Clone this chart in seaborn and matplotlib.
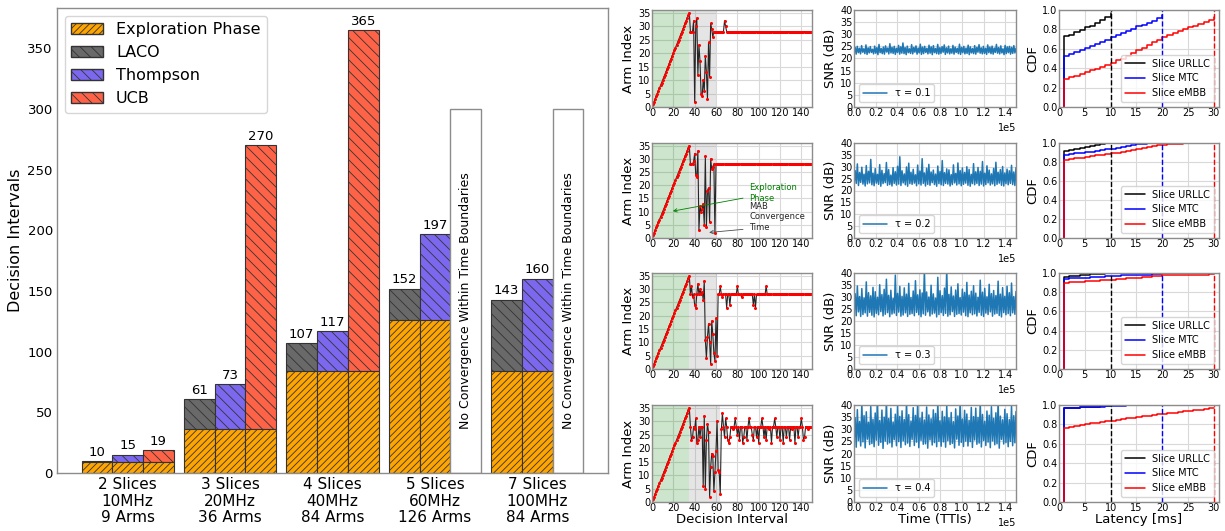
import numpy as np
import matplotlib
matplotlib.use('Agg')
import matplotlib.pyplot as plt
import seaborn as sns
from matplotlib.patches import Patch

# ── Data: convergence time per scenario ─────────────────────────────────────
scenarios = ['2 Slices\n10MHz\n9 Arms', '3 Slices\n20MHz\n36 Arms', '4 Slices\n40MHz\n84 Arms',
             '5 Slices\n60MHz\n126 Arms', '7 Slices\n100MHz\n84 Arms']
explore_phase = [9, 36, 84, 126, 84]
laco_total = [10, 61, 107, 152, 143]
thompson_total = [15, 73, 117, 197, 160]
ucb_total = [19, 270, 365, None, None]   # None -> no convergence
no_conv_height = 300
no_conv_text = 'No Convergence Within Time Boundaries'

# ── Data: arm index traces (36 arms) ────────────────────────────────────────
arm_explore = [0, 1, 2, 3, 4, 5, 6, 7, 8, 9, 10, 11, 12, 13, 14, 15, 16, 17,
               18, 19, 20, 21, 22, 23, 24, 25, 26, 27, 28, 29, 30, 31, 32, 33, 34, 35]
arm_best = 28
n_intervals = 150
arm_chaos = [
    [28, 28, 28, 32, 2, 30, 33, 12, 23, 17, 5, 4, 10, 6, 19, 13, 3, 24, 11, 31, 29, 26, 28],
    [28, 28, 28, 29, 32, 24, 23, 33, 3, 12, 10, 11, 13, 5, 31, 4, 18, 19, 6, 30, 26, 27, 28, 2, 28],
    [28, 31, 27, 28, 24, 23, 28, 32, 28, 30, 28, 29, 26, 33, 11, 4, 12, 17, 10, 2, 18, 13, 6, 3, 19, 5],
    [28, 23, 24, 28, 27, 31, 22, 23, 28, 24, 28, 28, 6, 32, 5, 23, 29, 26, 2, 13, 18, 17, 4, 11, 19,
     30, 12, 11, 3],
]
arm_spikes = [
    {68: 32, 69: 30},
    {},
    {64: 31, 66: 27, 70: 23, 73: 24, 80: 31, 84: 27, 95: 24, 97: 23, 107: 31},
    {65: 27, 66: 33, 68: 24, 69: 31, 71: 23, 72: 22, 73: 24, 76: 27, 78: 31, 80: 25, 82: 23,
     85: 22, 86: 24, 89: 23, 91: 31, 94: 25, 95: 23, 98: 24, 100: 22, 103: 31, 105: 24, 107: 23,
     110: 27, 112: 22, 115: 31, 117: 24, 120: 23, 123: 22, 126: 24, 129: 23, 131: 27, 134: 22,
     137: 24, 140: 31, 142: 23, 143: 24, 146: 27},
]
gray_end = [60, 60, 61, 64]

# ── Data: SNR traces (alternating band low / high readings) ─────────────────
tau_labels = ['τ = 0.1', 'τ = 0.2', 'τ = 0.3', 'τ = 0.4']
snr_01 = [22.1, 24.6, 21.8, 25.0, 22.4, 24.2, 21.9, 25.3, 22.6, 24.0, 22.0, 25.6, 21.7, 24.4, 22.3, 24.9, 22.5, 23.8, 21.9, 25.1,
          22.2, 24.5, 21.6, 25.8, 22.4, 24.1, 22.0, 24.7, 21.8, 25.2, 22.7, 24.3, 21.9, 26.1, 22.3, 24.6, 22.1, 25.0, 21.7, 24.2,
          22.5, 25.4, 21.8, 24.8, 22.2, 26.4, 22.0, 24.5, 21.6, 25.1, 22.4, 24.0, 22.1, 25.7, 21.9, 24.6, 22.6, 25.2, 21.8, 24.3,
          22.3, 25.9, 21.7, 24.7, 22.0, 25.0, 22.5, 24.2, 21.9, 25.5, 22.2, 24.8, 21.6, 25.3, 22.4, 24.1, 22.0, 25.8, 21.8, 24.5,
          22.1, 24.9, 22.6, 25.6, 21.7, 24.4, 22.3, 25.1, 21.9, 24.0, 22.2, 25.4, 21.8, 24.7, 22.5, 24.2, 22.0, 25.9, 21.7, 24.6,
          22.4, 25.0, 21.9, 24.3, 22.1, 25.5, 21.6, 24.8, 22.3, 24.1, 22.0, 25.3, 21.8, 24.6, 22.6, 25.7, 22.2, 24.4, 21.9, 25.0,
          22.1, 24.2, 21.7, 25.6, 22.4, 24.7, 22.0, 25.1, 21.8, 24.3, 22.5, 25.8, 22.2, 24.5, 21.9, 25.2, 22.3, 24.0, 21.6, 25.4,
          22.0, 24.8, 22.4, 25.0, 21.8, 24.6, 22.1, 25.3, 22.3, 24.2]
snr_02 = [22.5, 28.4, 23.0, 31.2, 22.1, 27.6, 23.4, 29.8, 22.7, 26.9, 21.9, 30.5, 22.8, 28.1, 23.2, 33.1, 22.4, 27.3, 22.0, 29.2,
          23.1, 26.8, 22.6, 30.9, 21.8, 28.5, 22.9, 27.1, 23.3, 31.8, 22.2, 28.8, 22.5, 26.5, 21.9, 29.6, 23.0, 27.9, 22.3, 30.2,
          22.7, 34.2, 22.1, 28.3, 23.2, 27.0, 22.4, 29.9, 21.8, 31.5, 22.9, 27.7, 22.6, 28.9, 23.1, 26.6, 22.0, 30.7, 22.8, 28.2,
          22.3, 33.4, 23.0, 27.4, 21.9, 29.4, 22.6, 31.0, 22.2, 27.8, 23.3, 28.6, 22.5, 26.9, 21.8, 30.3, 22.9, 28.0, 22.4, 32.6,
          22.1, 27.5, 23.0, 29.1, 22.7, 28.7, 21.9, 26.7, 22.5, 30.8, 23.2, 27.2, 22.3, 31.6, 22.8, 28.4, 22.0, 29.5, 22.6, 27.6,
          23.1, 30.0, 22.2, 28.9, 21.8, 26.8, 22.9, 31.3, 22.4, 27.9, 23.0, 29.7, 22.1, 28.1, 22.7, 32.2, 21.9, 27.3, 22.5, 30.4,
          23.2, 28.6, 22.3, 27.0, 22.8, 29.3, 22.0, 31.9, 22.6, 27.7, 23.1, 28.8, 22.2, 30.1, 21.9, 27.4, 22.9, 29.0, 22.4, 28.3,
          23.0, 30.6, 22.5, 27.8, 22.1, 29.6]
snr_03 = [23.1, 31.4, 22.2, 34.6, 23.8, 30.2, 21.9, 33.5, 22.7, 29.6, 23.4, 36.3, 22.0, 31.8, 23.6, 30.5, 22.4, 34.0, 21.7, 32.2,
          23.2, 29.9, 22.6, 35.1, 23.9, 31.0, 22.1, 33.2, 22.8, 37.4, 23.5, 30.7, 21.8, 32.8, 22.9, 29.4, 23.3, 39.1, 22.3, 31.5,
          23.7, 34.4, 22.0, 30.3, 22.5, 33.8, 23.4, 31.2, 21.9, 35.7, 22.8, 29.8, 23.1, 32.5, 22.2, 36.8, 23.6, 30.9, 22.6, 33.0,
          21.8, 31.7, 23.0, 41.2, 22.4, 32.1, 23.8, 30.0, 22.1, 34.9, 22.9, 31.3, 23.3, 29.5, 21.7, 38.2, 22.7, 32.6, 23.5, 30.6,
          22.3, 33.7, 23.2, 41.5, 22.0, 31.1, 22.6, 34.2, 23.9, 30.4, 21.9, 32.9, 22.8, 35.5, 23.1, 29.7, 22.5, 33.3, 23.7, 31.9,
          22.2, 36.1, 21.8, 30.8, 23.4, 32.4, 22.6, 34.7, 23.0, 31.6, 22.1, 29.9, 23.6, 37.0, 22.4, 32.0, 21.9, 33.6, 23.3, 30.1,
          22.7, 35.3, 23.8, 31.4, 22.0, 32.7, 22.9, 30.6, 23.2, 36.6, 22.3, 31.2, 21.7, 33.9, 23.5, 30.3, 22.6, 34.5, 23.1, 31.8,
          22.2, 35.8, 23.4, 30.2, 22.8, 32.3]
snr_04 = [24.2, 34.8, 22.6, 38.1, 25.3, 33.2, 23.1, 41.0, 24.8, 35.6, 22.3, 37.2, 25.9, 32.9, 23.7, 39.4, 24.1, 34.1, 22.8, 36.7,
          25.5, 41.8, 23.4, 33.6, 24.6, 37.9, 22.1, 35.0, 25.1, 42.0, 23.9, 34.4, 24.4, 38.6, 22.7, 33.0, 25.7, 36.2, 23.2, 39.8,
          24.9, 35.3, 22.5, 37.6, 25.2, 34.0, 23.6, 41.3, 24.3, 36.0, 22.9, 33.4, 25.8, 38.9, 23.3, 35.7, 24.7, 41.6, 22.4, 34.6,
          25.4, 37.0, 23.8, 33.8, 24.0, 39.2, 22.2, 35.9, 25.6, 34.3, 23.5, 38.0, 24.5, 36.5, 22.8, 41.1, 25.0, 33.5, 23.0, 37.4,
          24.8, 35.1, 22.6, 39.6, 25.3, 34.7, 23.7, 36.9, 24.2, 33.1, 22.3, 38.4, 25.9, 35.5, 23.4, 41.9, 24.6, 34.2, 22.9, 37.8,
          25.1, 36.3, 23.1, 33.7, 24.9, 39.0, 22.5, 35.2, 25.6, 38.7, 23.8, 34.9, 24.3, 41.4, 22.7, 36.1, 25.4, 33.3, 23.3, 37.5,
          24.7, 35.8, 22.4, 39.3, 25.2, 34.5, 23.6, 36.8, 24.0, 41.7, 22.2, 35.4, 25.8, 33.9, 23.9, 38.2, 24.5, 36.4, 22.8, 34.0,
          25.0, 39.7, 23.2, 35.6, 24.4, 37.3]
snr_traces = [snr_01, snr_02, snr_03, snr_04]

# ── Data: latency CDFs per slice (value at 1, 2, ... ms) ────────────────────
urllc_cdf = [
    [0.73, 0.745, 0.77, 0.79, 0.82, 0.84, 0.87, 0.90, 0.93, 0.965],
    [0.92, 0.93, 0.94, 0.95, 0.96, 0.97, 0.98, 0.99, 0.995, 1.0],
    [0.96, 0.965, 0.97, 0.975, 0.98, 0.985, 0.99, 0.99, 0.995, 0.995],
    [0.97, 0.972, 0.974, 0.976, 0.978, 0.98, 0.983, 0.986, 0.988, 0.99],
]
mtc_cdf = [
    [0.53, 0.55, 0.57, 0.59, 0.61, 0.63, 0.65, 0.67, 0.69, 0.72, 0.74, 0.76, 0.78, 0.80, 0.83, 0.85, 0.87, 0.89, 0.92, 0.95],
    [0.87, 0.88, 0.89, 0.90, 0.905, 0.91, 0.92, 0.93, 0.935, 0.94, 0.95, 0.96, 0.97, 0.98, 0.985, 0.99, 1.0, 1.0, 1.0, 1.0],
    [0.94, 0.943, 0.946, 0.95, 0.953, 0.956, 0.96, 0.963, 0.966, 0.97, 0.972, 0.974, 0.976, 0.978, 0.98, 0.982, 0.984,
     0.986, 0.988, 0.99],
    [0.97, 0.972, 0.974, 0.976, 0.978, 0.98, 0.982, 0.984, 0.986, 0.988, 0.99, 0.993, 0.995, 0.997, 1.0, 1.0, 1.0, 1.0,
     1.0, 1.0],
]
embb_cdf = [
    [0.29, 0.31, 0.32, 0.34, 0.36, 0.38, 0.39, 0.41, 0.43, 0.45, 0.48, 0.50, 0.53, 0.56, 0.59, 0.61, 0.64, 0.67, 0.69,
     0.72, 0.74, 0.76, 0.78, 0.80, 0.82, 0.84, 0.86, 0.88, 0.90, 0.93],
    [0.82, 0.83, 0.84, 0.845, 0.85, 0.86, 0.87, 0.875, 0.88, 0.89, 0.90, 0.91, 0.92, 0.93, 0.94, 0.95, 0.96, 0.97, 0.975,
     0.98, 0.985, 0.99, 0.99, 0.995, 0.995, 1.0, 1.0, 1.0, 1.0, 1.0],
    [0.90, 0.903, 0.906, 0.91, 0.913, 0.916, 0.92, 0.923, 0.926, 0.93, 0.935, 0.94, 0.944, 0.949, 0.953, 0.958, 0.962,
     0.967, 0.971, 0.975, 0.977, 0.978, 0.979, 0.98, 0.981, 0.982, 0.983, 0.984, 0.985, 0.985],
    [0.76, 0.77, 0.78, 0.79, 0.80, 0.81, 0.815, 0.825, 0.83, 0.84, 0.847, 0.854, 0.861, 0.868, 0.875, 0.882, 0.889, 0.896,
     0.903, 0.91, 0.916, 0.922, 0.928, 0.934, 0.94, 0.946, 0.952, 0.958, 0.964, 0.97],
]
slice_names = ['Slice URLLC', 'Slice MTC', 'Slice eMBB']
slice_colors = ['black', 'blue', 'red']
slice_budget = [10, 20, 30]

# ── Style ───────────────────────────────────────────────────────────────────
sns.set_theme(style='whitegrid', rc={
    'axes.edgecolor': '0.55', 'axes.linewidth': 1.0,
    'grid.color': '0.85', 'grid.linewidth': 0.8,
    'text.color': 'black', 'axes.labelcolor': 'black',
    'xtick.color': 'black', 'ytick.color': 'black',
    'xtick.major.size': 0, 'ytick.major.size': 0,
    'hatch.linewidth': 0.6, 'legend.edgecolor': '0.8',
})
plt.rcParams['font.family'] = ['DejaVu Sans']

fig = plt.figure(figsize=(12.25, 5.31), dpi=100)

# ── (A) Convergence bars ────────────────────────────────────────────────────
ax = fig.add_axes([0.0465, 0.109, 0.4498, 0.8757])
ax.grid(False)
w = 0.3
xg = np.arange(len(scenarios))
algos = [('LACO', laco_total, 'dimgray'),
         ('Thompson', thompson_total, 'mediumslateblue'),
         ('UCB', ucb_total, 'tomato')]
h_explore, h_algo = '/////', '\\\\\\'
for j, (name, totals, col) in enumerate(algos):
    for i in range(len(scenarios)):
        pos = xg[i] + (j - 1) * w
        if totals[i] is None:
            ax.bar(pos, no_conv_height, w, color='white', edgecolor='0.55', lw=1.0)
            ax.text(pos, 142, no_conv_text, rotation=90, ha='center', va='center', fontsize=9)
            continue
        ax.bar(pos, totals[i] - explore_phase[i], w, bottom=explore_phase[i], color=col,
               hatch=h_algo, edgecolor='0.2', lw=0.8)
        ax.bar(pos, explore_phase[i], w, color='orange', hatch=h_explore, edgecolor='0.2', lw=0.8)
        ax.text(pos, totals[i] + 2, str(totals[i]), ha='center', va='bottom', fontsize=9.5)

ax.set_xlim(-0.69, 4.69)
ax.set_ylim(0, 383)
ax.set_xticks(xg)
ax.set_xticklabels(scenarios, fontsize=11, linespacing=1.12)
ax.tick_params(axis='x', pad=3)
ax.set_yticks(range(0, 351, 50))
ax.tick_params(axis='y', labelsize=9.5, pad=3)
ax.set_ylabel('Decision Intervals', fontsize=11.5, labelpad=3)
handles = [Patch(facecolor='orange', hatch=h_explore, edgecolor='0.2', label='Exploration Phase')]
handles += [Patch(facecolor=c, hatch=h_algo, edgecolor='0.2', label=n) for n, _, c in algos]
ax.legend(handles=handles, loc='upper left', fontsize=11.5, frameon=True, handlelength=2.0)

# ── (B,C,D) Small panels ────────────────────────────────────────────────────
rows_px = [(10, 107), (143, 238), (273, 369), (405, 502)]
cols_px = [(652, 160), (854, 162), (1059, 160)]
W, H = 1225, 531
for r, (top, bot) in enumerate(rows_px):
    last = r == len(rows_px) - 1
    axs = [fig.add_axes([c0 / W, (H - bot) / H, cw / W, (bot - top) / H]) for c0, cw in cols_px]

    # arm index
    a = axs[0]
    y_arm = list(arm_explore) + list(arm_chaos[r])
    y_arm += [arm_best] * (n_intervals - len(y_arm))
    for k, v in arm_spikes[r].items():
        y_arm[k] = v
    a.axvspan(0, 35, color='green', alpha=0.2, lw=0)
    a.axvspan(35, gray_end[r], color='gray', alpha=0.2, lw=0)
    sns.lineplot(x=np.arange(n_intervals), y=y_arm, ax=a, color='0.15', lw=0.8, marker='o',
                 markersize=2.2, markerfacecolor='red', markeredgecolor='red', markeredgewidth=0,
                 estimator=None, sort=False)
    a.set_xlim(0, 150)
    a.set_ylim(0, 36)
    a.set_xticks(range(0, 141, 20))
    a.set_yticks(range(0, 36, 5))
    a.tick_params(labelsize=7, pad=1)
    a.set_ylabel('Arm Index', fontsize=9.5, labelpad=2)
    if r == 1:
        a.annotate('Exploration\nPhase', xy=(17, 10), xytext=(91, 17), color='green', fontsize=6,
                   ha='left', va='center',
                   arrowprops=dict(arrowstyle='->', color='green', lw=0.6, relpos=(0, 0.3)))
        a.annotate('MAB\nConvergence\nTime', xy=(51, 2), xytext=(91, 8), color='0.15', fontsize=6,
                   ha='left', va='center',
                   arrowprops=dict(arrowstyle='->', color='0.3', lw=0.6, relpos=(0, 0.1)))
    if last:
        a.set_xlabel('Decision Interval', fontsize=9.5, labelpad=0)

    # SNR
    s = axs[1]
    snr = snr_traces[r]
    t = np.linspace(0, 150000, len(snr))
    sns.lineplot(x=t, y=snr, ax=s, color='#1f77b4', lw=1.1, label=tau_labels[r],
                 estimator=None, sort=False)
    s.set_xlim(0, 150000)
    s.set_ylim(0, 40)
    s.set_xticks(range(0, 140001, 20000))
    s.set_yticks(range(0, 41, 5))
    s.ticklabel_format(axis='x', style='sci', scilimits=(0, 0))
    s.xaxis.get_offset_text().set_fontsize(7)
    s.tick_params(labelsize=7, pad=1)
    s.set_ylabel('SNR (dB)', fontsize=9.5, labelpad=2)
    s.legend(loc='lower left', fontsize=7, handlelength=2.5)
    if last:
        s.set_xlabel('Time (TTIs)', fontsize=9.5, labelpad=0)

    # latency CDF
    c = axs[2]
    for vals, name, col in zip([urllc_cdf[r], mtc_cdf[r], embb_cdf[r]], slice_names, slice_colors):
        xs = [1] + list(range(1, len(vals) + 1))
        ys = [0] + list(vals)
        sns.lineplot(x=xs, y=ys, ax=c, color=col, lw=1.1, drawstyle='steps-post', label=name,
                     estimator=None, sort=False)
    for col, lim in zip(slice_colors, slice_budget):
        c.axvline(lim, color=col, ls='--', lw=1.0)
    c.set_xlim(0, 31)
    c.set_ylim(0, 1)
    c.set_xticks(range(0, 31, 5))
    c.set_yticks(np.arange(0, 1.01, 0.2))
    c.tick_params(labelsize=7, pad=1)
    c.set_ylabel('CDF', fontsize=9.5, labelpad=2)
    c.legend(loc='lower right', fontsize=7)
    if last:
        c.set_xlabel('Latency [ms]', fontsize=9.5, labelpad=0)

fig.savefig('out.png', dpi=100)
